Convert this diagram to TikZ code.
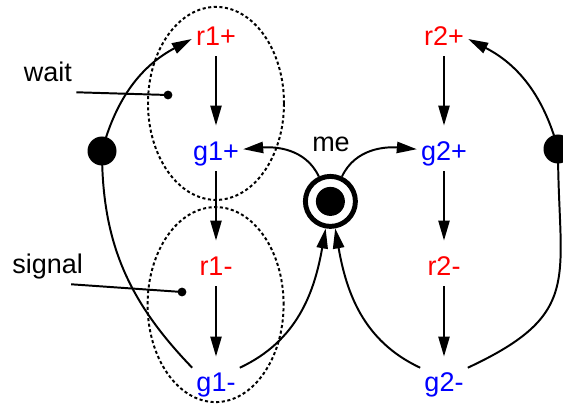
\documentclass[tikz,border=0pt]{standalone}
\usepackage{fontspec}
\setmainfont{Liberation Sans}
\usetikzlibrary{arrows.meta,shapes.geometric}
\definecolor{rise}{RGB}{255,0,0}
\definecolor{grant}{RGB}{0,0,255}
\tikzset{
  >={Triangle[length=5mm,width=2.8mm]},
  sig/.style={text=#1,font=\fontsize{19.2}{23}\selectfont,text height=5mm,text depth=1.5mm,inner sep=1mm},
  sig/.default=black,
  flow/.style={->,line width=1.4pt},
  fire/.style={flow,shorten >=2.8mm},
  place/.style={circle,draw,line width=3.5pt,minimum size=12.5mm,inner sep=0pt},
  tok/.style={circle,fill,inner sep=0pt,minimum size=#1},
  tok/.default=7.25mm,
  grp/.style={ellipse,draw,line width=1.4pt,dash pattern=on 2.2pt off 1.8pt,
    minimum width=34mm,minimum height=#1,inner sep=0pt},
  pointer/.style={line width=1.4pt},
}
\begin{document}
\begin{tikzpicture}
  \useasboundingbox (0,0) rectangle (14.075,10.125);
  % dashed groups
  \node[grp=48.25mm] (waitset) at (5.4,7.54) {};
  \node[grp=48.75mm] (sigset) at (5.39,2.51) {};
  % transitions of the two handshakes
  \foreach \i/\x in {1/5.4,2/11.1} {
    \node[sig=rise] (rp\i) at (\x,9.15) {r\i+};
    \node[sig=grant] (gp\i) at (\x,6.275) {g\i+};
    \node[sig=rise] (rm\i) at (\x,3.4) {r\i-};
    \node[sig=grant] (gm\i) at (\x,0.5) {g\i-};
    \draw[fire] (rp\i) -- (gp\i); \draw[fire] (gp\i) -- (rm\i); \draw[fire] (rm\i) -- (gm\i);
  }
  % mutex place
  \node[place] (me) at (8.26,5.09) {};
  \node[tok] (medot) at (me) {};
  \node[sig] (melbl) at (8.275,6.5) {me};
  \draw[flow] (me.115) to[out=115,in=5] (gp1.10);
  \draw[flow] (me.65) to[out=65,in=175] (gp2.170);
  \draw[flow] (gm1.north east) to[out=25,in=-100] (me.-100);
  \draw[flow] (gm2.north west) to[out=155,in=-80] (me.-80);
  % marked arcs back to the requests
  \node[tok] (tokL) at (2.55,6.35) {};
  \node[tok] (tokR) at (13.95,6.4) {};
  \draw[flow] (gm1.north west) to[out=134,in=-90] (tokL.center) to[out=75,in=208] (rp1.west);
  \draw[flow] (gm2.north east) to[out=25,in=-90,looseness=1.4] (tokR.center) to[out=105,in=-27] (rp2.east);
  % annotations
  \node[sig] (waitlbl) at (1.2,8.25) {wait};
  \node[sig] (signallbl) at (1.19,3.45) {signal};
  \coordinate (waitpt) at (4.2,7.75);
  \coordinate (signalpt) at (4.55,2.825);
  \draw[pointer] (waitlbl.south east) -- (waitpt);
  \draw[pointer] ([xshift=-4mm]signallbl.south east) -- (signalpt);
  \fill (waitpt) circle (1.1mm);
  \fill (signalpt) circle (1.1mm);
\end{tikzpicture}
\end{document}
